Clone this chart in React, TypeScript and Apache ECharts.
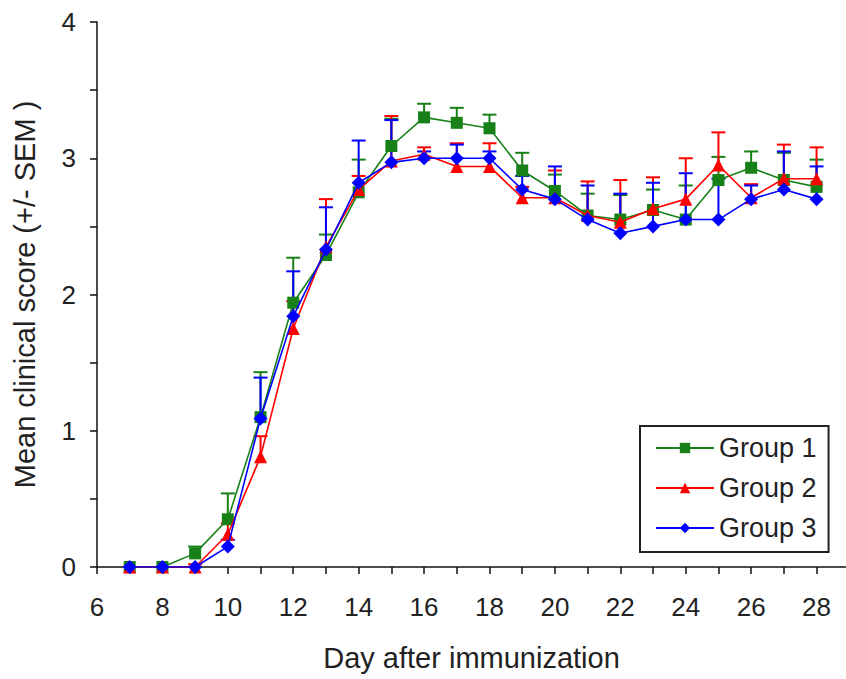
import React, { useEffect, useRef } from "react";
import * as echarts from "echarts";

const days = [7, 8, 9, 10, 11, 12, 13, 14, 15, 16, 17, 18, 19, 20, 21, 22, 23, 24, 25, 26, 27, 28];

const group1 = [0, 0, 0.1, 0.35, 1.1, 1.94, 2.29, 2.75, 3.09, 3.3, 3.26, 3.22, 2.91, 2.76, 2.58, 2.55, 2.62, 2.55, 2.84, 2.93, 2.84, 2.79];
const group1Sem = [0, 0, 0.05, 0.19, 0.33, 0.33, 0.15, 0.24, 0.2, 0.1, 0.11, 0.1, 0.13, 0.12, 0.16, 0.18, 0.15, 0.25, 0.17, 0.12, 0.2, 0.2];

const group2 = [0, 0, 0, 0.24, 0.81, 1.75, 2.35, 2.77, 2.98, 3.03, 2.94, 2.94, 2.71, 2.71, 2.58, 2.53, 2.63, 2.7, 2.95, 2.71, 2.85, 2.85];
const group2Sem = [0, 0, 0.02, 0.08, 0.15, 0.2, 0.35, 0.1, 0.33, 0.05, 0.17, 0.17, 0.08, 0.2, 0.25, 0.31, 0.23, 0.3, 0.24, 0.1, 0.25, 0.23];

const group3 = [0, 0, 0, 0.15, 1.09, 1.84, 2.33, 2.82, 2.97, 3.0, 3.0, 3.0, 2.77, 2.7, 2.55, 2.45, 2.5, 2.55, 2.55, 2.7, 2.77, 2.7];
const group3Sem = [0, 0, 0, 0.05, 0.3, 0.33, 0.31, 0.31, 0.31, 0.05, 0.1, 0.05, 0.1, 0.24, 0.25, 0.29, 0.32, 0.34, 0.3, 0.1, 0.28, 0.24];

const xTickValues = [6, 7, 8, 9, 10, 11, 12, 13, 14, 15, 16, 17, 18, 19, 20, 21, 22, 23, 24, 25, 26, 27, 28];
const xLabelValues = [6, 8, 10, 12, 14, 16, 18, 20, 22, 24, 26, 28];

const groupNames = ["Group 1", "Group 2", "Group 3"];
const colors = ["#178017", "#ff0000", "#0000ff"];

const FONT = "'Liberation Sans', Arial, sans-serif";

function errorSeries(color: string, values: number[], sems: number[], z: number) {
  return {
    type: "custom",
    name: "sem" + color,
    silent: true,
    z,
    data: days.map((d, i) => [d, values[i], sems[i]]),
    encode: { x: 0, y: 1 },
    renderItem: (params: any, api: any) => {
      const x = api.value(0);
      const v = api.value(1);
      const s = api.value(2);
      if (!s) return null;
      const p0 = api.coord([x, v]);
      const p1 = api.coord([x, v + s]);
      return {
        type: "group",
        children: [
          { type: "line", shape: { x1: p0[0], y1: p0[1], x2: p1[0], y2: p1[1] }, style: { stroke: color, lineWidth: 2 } },
          { type: "line", shape: { x1: p1[0] - 7, y1: p1[1], x2: p1[0] + 7, y2: p1[1] }, style: { stroke: color, lineWidth: 2 } },
        ],
      };
    },
  };
}

function lineSeries(name: string, color: string, values: number[], symbol: string, size: number, z: number) {
  return {
    type: "line",
    name,
    z,
    data: days.map((d, i) => [d, values[i]]),
    symbol,
    symbolSize: size,
    showAllSymbol: true,
    lineStyle: { color, width: 1.6 },
    itemStyle: { color },
  };
}

export default function App() {
  const ref = useRef<HTMLDivElement>(null);
  useEffect(() => {
    if (!ref.current) return;
    const chart = echarts.init(ref.current, null, { renderer: "svg" });
    chart.setOption({
      animation: false,
      backgroundColor: "#ffffff",
      textStyle: { fontFamily: FONT },
      grid: { left: 97, right: 0, top: 22, bottom: 112, containLabel: false },
      xAxis: {
        type: "value",
        min: 6,
        max: 28.9,
        interval: 1,
        name: "Day after immunization",
        nameLocation: "middle",
        nameGap: 76,
        nameTextStyle: { fontSize: 29, color: "#222", fontFamily: FONT },
        axisLine: { lineStyle: { color: "#111", width: 1.5 } },
        axisTick: { length: 7, lineStyle: { color: "#111", width: 1.5 }, customValues: xTickValues },
        axisLabel: {
          customValues: xLabelValues,
          fontSize: 26,
          color: "#222",
          margin: 27,
          fontFamily: FONT,
          formatter: (v: number) => (Number.isInteger(v) && v % 2 === 0 ? String(v) : ""),
        },
        splitLine: { show: false },
      },
      yAxis: {
        type: "value",
        min: 0,
        max: 4,
        interval: 0.5,
        name: "Mean clinical score (+/- SEM )",
        nameLocation: "middle",
        nameGap: 58,
        nameTextStyle: { fontSize: 29, color: "#222", fontFamily: FONT },
        axisLine: { show: true, lineStyle: { color: "#111", width: 1.5 } },
        axisTick: { show: true, length: 7, lineStyle: { color: "#111", width: 1.5 } },
        axisLabel: {
          fontSize: 26,
          color: "#222",
          margin: 21,
          fontFamily: FONT,
          formatter: (v: number) => (Number.isInteger(v) ? String(v) : ""),
        },
        splitLine: { show: false },
      },
      legend: {
        data: groupNames,
        orient: "vertical",
        left: 640,
        top: 426,
        padding: [8, 12, 10, 15],
        itemGap: 12,
        itemWidth: 58,
        itemHeight: 13,
        borderColor: "#222",
        borderWidth: 2,
        borderRadius: 0,
        backgroundColor: "#ffffff",
        textStyle: { fontSize: 27, color: "#222", lineHeight: 28, fontFamily: FONT },
      },
      series: [
        errorSeries(colors[0], group1, group1Sem, 1),
        errorSeries(colors[1], group2, group2Sem, 1),
        errorSeries(colors[2], group3, group3Sem, 1),
        lineSeries(groupNames[0], colors[0], group1, "rect", 12, 2),
        lineSeries(groupNames[1], colors[1], group2, "triangle", 13, 3),
        lineSeries(groupNames[2], colors[2], group3, "diamond", 14, 4),
      ],
    });
    return () => chart.dispose();
  }, []);
  return <div ref={ref} style={{ position: "absolute", left: 0, top: 0, width: 846, height: 679 }} />;
}
